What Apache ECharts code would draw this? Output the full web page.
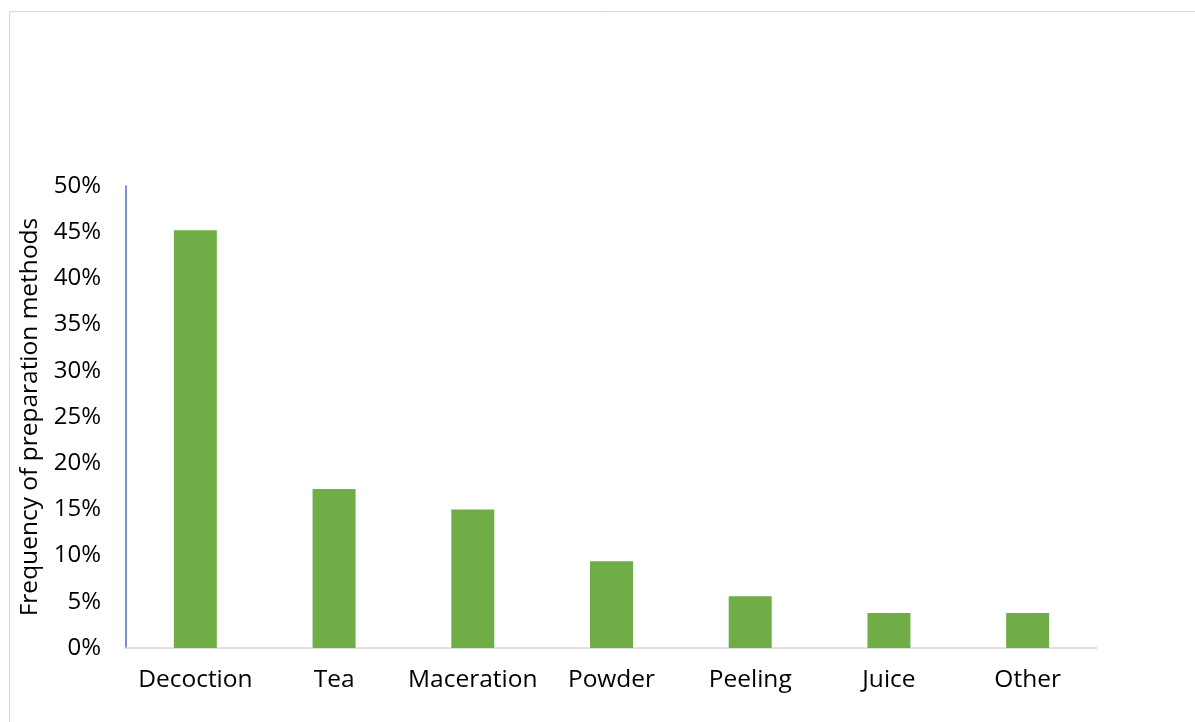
<!DOCTYPE html>
<html>
<head>
<meta charset="utf-8">
<script src="https://cdn.jsdelivr.net/npm/echarts@6/dist/echarts.min.js"></script>
<style>
html,body{margin:0;padding:0;background:#fff;}
#chart{width:1195px;height:722px;}
</style>
</head>
<body>
<div id="chart"></div>
<script>
const categories = ['Decoction', 'Tea', 'Maceration', 'Powder', 'Peeling', 'Juice', 'Other'];
const values = [45.2, 17.2, 15.0, 9.4, 5.6, 3.8, 3.8];
const yTicks = [0, 5, 10, 15, 20, 25, 30, 35, 40, 45, 50];
const yAxisTitle = 'Frequency of preparation methods';

const chart = echarts.init(document.getElementById('chart'));
const font = '"Open Sans", "Noto Sans", sans-serif';
chart.setOption({
  animation: false,
  graphic: [{
    type: 'rect',
    shape: { x: 9.5, y: 11.5, width: 1200, height: 720 },
    style: { fill: 'none', stroke: '#d9d9d9', lineWidth: 1 },
    silent: true
  }],
  grid: { left: 126, top: 186, right: 98, bottom: 74 },
  xAxis: {
    type: 'category',
    data: categories,
    axisLine: { show: true, lineStyle: { color: '#d9d9d9', width: 1.5 } },
    axisTick: { show: false },
    axisLabel: { color: '#000', fontSize: 24.5, fontFamily: font, margin: 20, interval: 0 }
  },
  yAxis: {
    type: 'value',
    min: yTicks[0],
    max: yTicks[yTicks.length - 1],
    interval: 5,
    name: yAxisTitle,
    nameLocation: 'middle',
    nameGap: 83,
    nameRotate: 90,
    nameTextStyle: { color: '#000', fontSize: 24.5, fontFamily: font },
    axisLine: { show: true, lineStyle: { color: '#4472c4', width: 1.5 } },
    axisTick: { show: false },
    splitLine: { show: false },
    axisLabel: { color: '#000', fontSize: 24, fontFamily: font, margin: 25, formatter: v => v + '%' }
  },
  series: [{
    type: 'bar',
    data: values,
    barWidth: 43,
    itemStyle: { color: '#70ad47' }
  }]
});
</script>
</body>
</html>
